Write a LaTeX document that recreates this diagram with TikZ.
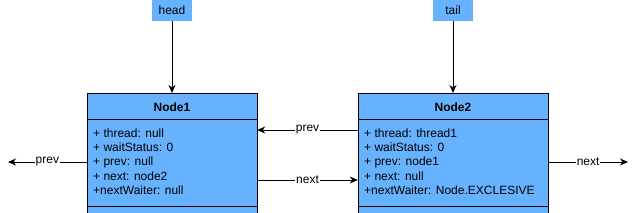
\documentclass[tikz,border=0pt]{standalone}
\usepackage{fontspec}
\setmainfont{Liberation Sans}
\usetikzlibrary{arrows.meta}
\definecolor{nodeblue}{HTML}{66B2FF}
\tikzset{
  lbl/.style={fill=nodeblue, draw=none, minimum width=40pt, minimum height=21pt, inner sep=0pt, font=\fontsize{12pt}{14pt}\selectfont},
  cls/.style={fill=nodeblue, draw=black, line width=1pt},
  divider/.style={draw=black, line width=1pt},
  attr/.style={anchor=west, inner sep=0pt, font=\fontsize{12pt}{14pt}\selectfont},
  ttl/.style={inner sep=0pt, font=\fontsize{12pt}{14pt}\selectfont\bfseries},
  conn/.style={draw=black, line width=1pt, -{Stealth[length=8pt,width=7pt,inset=2.5pt]}},
  elab/.style={fill=white, inner sep=1pt, font=\fontsize{12pt}{14pt}\selectfont}
}
\begin{document}
\begin{tikzpicture}[x=1pt,y=-1pt]
\useasboundingbox (0,0) rectangle (636,212);
\clip (0,0) rectangle (636,212);
% labels
\node[lbl] (head) at (172,10.5) {head};
\node[lbl] (tail) at (453,10.5) {tail};
% Node1
\draw[cls] (87,93) rectangle (257,216);
\draw[divider] (87,119) -- (257,119);
\draw[divider] (87,206) -- (257,206);
\node (n1) [inner sep=0pt, minimum width=170pt, minimum height=123pt, anchor=north] at (172,93) {};
\node[ttl] (n1t) at (172,107) {Node1};
\node[attr] (n1a1) at (93,133) {+ thread: null};
\node[attr] (n1a2) at (93,147.5) {+ waitStatus: 0};
\node[attr] (n1a3) at (93,162) {+ prev: null};
\node[attr] (n1a4) at (93,176) {+ next: node2};
\node[attr] (n1a5) at (93,190) {+nextWaiter: null};
% Node2
\draw[cls] (358,93) rectangle (548,216);
\draw[divider] (358,119) -- (548,119);
\draw[divider] (358,206) -- (548,206);
\node (n2) [inner sep=0pt, minimum width=190pt, minimum height=123pt, anchor=north] at (453,93) {};
\node[ttl] (n2t) at (453,107) {Node2};
\node[attr] (n2a1) at (364,133) {+ thread: thread1};
\node[attr] (n2a2) at (364,147.5) {+ waitStatus: 0};
\node[attr] (n2a3) at (364,162) {+ prev: node1};
\node[attr] (n2a4) at (364,176) {+ next: null};
\node[attr] (n2a5) at (364,190) {+nextWaiter: Node.EXCLESIVE};
% coordinates for free ends
\coordinate (leftend) at (8,162);
\coordinate (rightend) at (628,162);
% connectors
\draw[conn] (head.south) -- (n1.north);
\draw[conn] (tail.south) -- (n2.north);
\draw[conn] (n2.west |- 0,130) -- node[elab] {prev} (n1.east |- 0,130);
\draw[conn] (n1.east |- 0,180) -- node[elab] {next} (n2.west |- 0,180);
\draw[conn] (n1.west |- 0,162) -- node[elab] {prev} (leftend);
\draw[conn] (n2.east |- 0,162) -- node[elab] {next} (rightend);
\end{tikzpicture}
\end{document}
